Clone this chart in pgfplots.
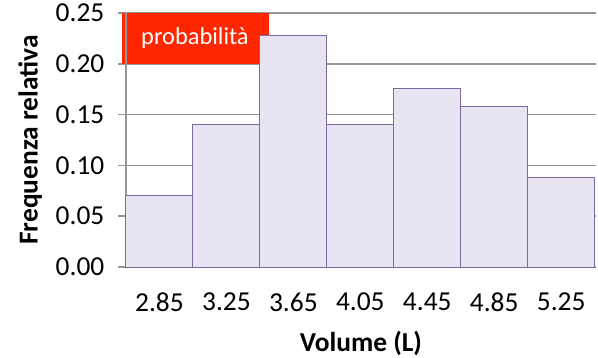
\documentclass[border=0pt]{standalone}
\usepackage{pgfplots}
\pgfplotsset{compat=1.18}
\usepackage{fontspec}
\setmainfont{Carlito}
\definecolor{gridgray}{RGB}{150,150,150}
\definecolor{barfill}{RGB}{233,228,241}
\definecolor{baredge}{RGB}{126,104,160}
\definecolor{boxred}{RGB}{255,38,0}
\begin{document}
\begin{tikzpicture}
\begin{axis}[
  scale only axis, width=470bp, height=254bp,
  xmin=-0.5, xmax=6.52, ymin=0, ymax=0.25,
  axis lines*=left,
  axis line style={gridgray, line width=1.5bp, -},
  ytick={0,0.05,0.1,0.15,0.2,0.25},
  ymajorgrids, grid style={gridgray, line width=1.5bp},
  xtick={0,1,2,3,4,5,6},
  xticklabels={2.85,3.25,3.65,4.05,4.45,4.85,5.25},
  x tick style={draw=none},
  y tick style={gridgray, line width=1.5bp},
  tick align=outside, major tick length=8bp,
  /pgf/number format/.cd, fixed, fixed zerofill, precision=2, assume math mode=true,
  /pgfplots/.cd,
  ticklabel style={font=\fontsize{27.5}{32}\selectfont},
  yticklabel style={anchor=center, xshift=-38bp},
  xticklabel style={anchor=center, yshift=-27bp},
  xlabel={Volume (L)}, ylabel={Frequenza relativa},
  label style={font=\bfseries\fontsize{27.5}{32}\selectfont},
  xlabel style={at={(axis description cs:0.5,-0.299)}, anchor=center},
  ylabel style={at={(axis description cs:-0.204,0.5)}, anchor=center},
  clip=false,
]
\coordinate (O) at (rel axis cs:0,0);
\fill[boxred] (axis cs:-0.56,0.2) rectangle (axis cs:1.635,0.25);
\draw[gridgray, line width=1.5bp] (rel axis cs:0,0.78) -- (rel axis cs:0,1);
\node[white, font=\fontsize{24.5}{29}\selectfont] at (axis cs:0.53,0.2255) {probabilità};
\addplot[ybar, bar width=1, bar shift=0, fill=barfill, draw=baredge, line width=1bp]
  coordinates {(0,0.0702) (1,0.1404) (2,0.2281) (3,0.1404) (4,0.1754) (5,0.1579) (6,0.0877)};
\end{axis}
\pgfresetboundingbox
\path (O) ++(-126bp,-91bp) rectangle ++(598bp,358bp);
\end{tikzpicture}
\end{document}
